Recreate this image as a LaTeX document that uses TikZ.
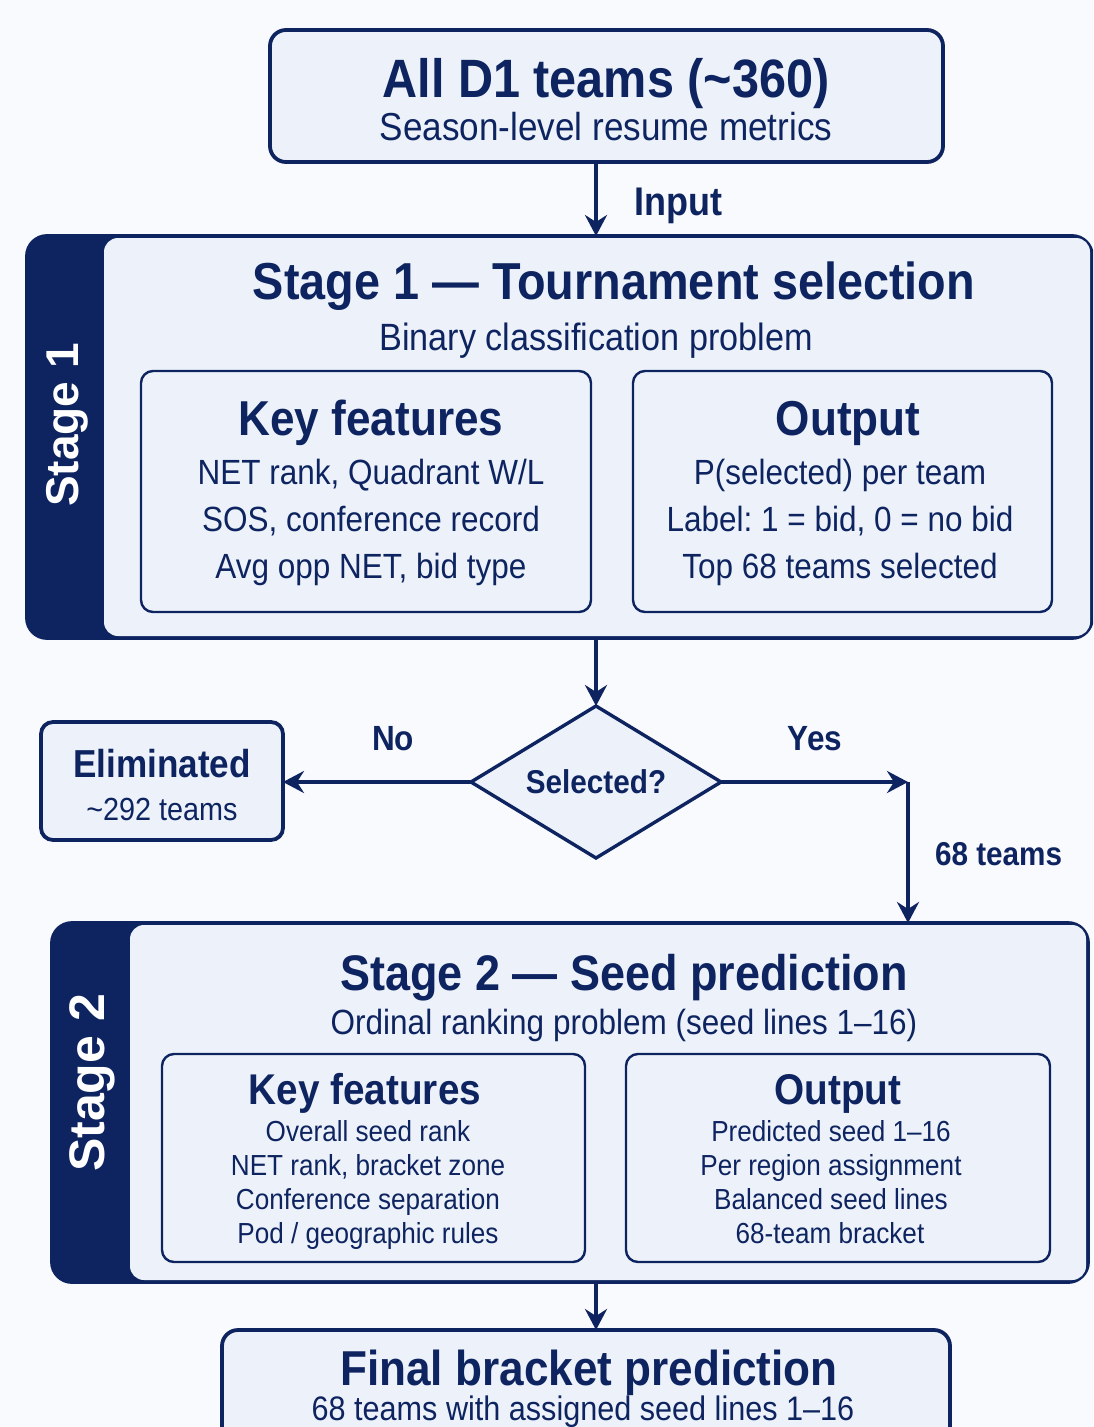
\documentclass[tikz,border=0pt]{standalone}
\usepackage{fontspec}
\setmainfont{Liberation Sans}[FakeStretch=0.9]
\newfontfamily\bandfont{Liberation Sans}
\usetikzlibrary{shapes.geometric,arrows.meta,calc}
\definecolor{navy}{HTML}{0E2460}
\definecolor{pale}{HTML}{EDF2FA}
\definecolor{paper}{HTML}{F9FAFD}
\newcommand\fsz[1]{\fontsize{#1}{#1}\selectfont}
\frenchspacing
\begin{document}
\begin{tikzpicture}[x=1pt,y=-1pt,
  every node/.style={text=navy, inner sep=0pt, outer sep=0pt},
  card/.style={draw=navy, line width=3.8pt, fill=pale, rounded corners=16pt},
  subcard/.style={draw=navy, line width=2.4pt, fill=pale, rounded corners=12pt},
  band/.style={draw=navy, line width=3.8pt, fill=navy, rounded corners=20pt},
  arr/.style={draw=navy, line width=4pt, -{Stealth[length=21pt,width=22pt,inset=7pt]}},
  ttl/.style={anchor=base, font=\bfseries\fsz{#1}},
  txt/.style={anchor=base, font=\fsz{#1}},
  tag/.style={rotate=90, text=white, font=\bandfont\bfseries\fsz{#1}},
]
\useasboundingbox (0,0) rectangle (1093,1427);
\clip (0,0) rectangle (1093,1427);
\fill[paper] (0,0) rectangle (1093,1427);

\coordinate (axis) at (596,0);

% input box
\node[card, minimum width=673, minimum height=132] (top) at (606.5,96) {};
\node[ttl=54] (topT) at (606,97) {All D1 teams (\textasciitilde 360)};
\node[txt=39] (topS) at (606,140) {Season-level resume metrics};

% stage 1
\node[band, minimum width=1065, minimum height=402] (st1) at (559.5,437) {};
\fill[pale, rounded corners=14pt] ($(st1.north west)+(77,2)$) rectangle ($(st1.south east)+(-2,-2)$);
\node[tag=46] (s1tag) at (67,425) {Stage 1};
\node[ttl=52] (s1T) at (614,299) {Stage 1 — Tournament selection};
\node[txt=38] (s1S) at (596,350) {Binary classification problem};

\node[subcard, minimum width=450, minimum height=241] (kf1) at (366,491.5) {};
\node[ttl=49] (kf1T) at (371,435) {Key features};
\node[txt=35] (kf1a) at (371,484) {NET rank, Quadrant W/L};
\node[txt=35] (kf1b) at (371,531) {SOS, conference record};
\node[txt=35] (kf1c) at (371,578) {Avg opp NET, bid type};

\node[subcard, minimum width=419, minimum height=241] (out1) at (842.5,491.5) {};
\node[ttl=49] (out1T) at (848,435) {Output};
\node[txt=35] (out1a) at (840,484) {P(selected) per team};
\node[txt=35] (out1b) at (840,531) {Label: 1 = bid, 0 = no bid};
\node[txt=35] (out1c) at (840,578) {Top 68 teams selected};

% decision
\node[diamond, aspect=1.645, draw=navy, line width=3.4pt, fill=pale,
      minimum width=250, minimum height=152, font=\bfseries\fsz{33}] (sel) at (596,782) {Selected?};

\node[card, rounded corners=12pt, minimum width=242, minimum height=118] (elim) at (162,781) {};
\node[ttl=39] (elimT) at (162,777) {Eliminated};
\node[txt=32] (elimS) at (162,820) {\textasciitilde 292 teams};

\coordinate (yc) at (908,782);

% stage 2
\node[band, minimum width=1036, minimum height=359] (st2) at (570,1102.5) {};
\fill[pale, rounded corners=14pt] ($(st2.north west)+(78,2)$) rectangle ($(st2.south east)+(-2,-2)$);
\node[tag=50] (s2tag) at (92,1083) {Stage 2};
\node[ttl=50] (s2T) at (624,990) {Stage 2 — Seed prediction};
\node[txt=35] (s2S) at (624,1034) {Ordinal ranking problem (seed lines 1–16)};

\node[subcard, minimum width=423, minimum height=208] (kf2) at (373.5,1158) {};
\node[ttl=43] (kf2T) at (365,1104) {Key features};
\node[txt=29] (kf2a) at (368,1141) {Overall seed rank};
\node[txt=29] (kf2b) at (368,1175) {NET rank, bracket zone};
\node[txt=29] (kf2c) at (368,1209) {Conference separation};
\node[txt=29] (kf2d) at (368,1243) {Pod / geographic rules};

\node[subcard, minimum width=424, minimum height=208] (out2) at (838,1158) {};
\node[ttl=43] (out2T) at (838,1104) {Output};
\node[txt=29] (out2a) at (831,1141) {Predicted seed 1–16};
\node[txt=29] (out2b) at (831,1175) {Per region assignment};
\node[txt=29] (out2c) at (831,1209) {Balanced seed lines};
\node[txt=29] (out2d) at (830,1243) {68-team bracket};

% result
\node[card, minimum width=728, minimum height=130] (final) at (586,1395) {};
\node[ttl=49] (finT) at (589,1385) {Final bracket prediction};
\node[txt=34] (finS) at (583,1420) {68 teams with assigned seed lines 1–16};

% connectors
\draw[arr] (top.south -| axis) -- (st1.north -| axis);
\node[ttl=40, anchor=base west] (inLbl) at (634,215) {Input};
\draw[arr] (st1.south -| axis) -- (sel.north);
\draw[arr] (sel.west) -- (sel.west -| elim.east);
\node[ttl=35] (noLbl) at (393,750) {No};
\draw[arr] (sel.east) -- (yc);
\node[ttl=35] (yesLbl) at (815,750) {Yes};
\draw[arr] (yc) -- (yc |- st2.north);
\node[ttl=33, anchor=base west] (cntLbl) at (935,865) {68 teams};
\draw[arr] (st2.south -| axis) -- (final.north -| axis);
\end{tikzpicture}
\end{document}
